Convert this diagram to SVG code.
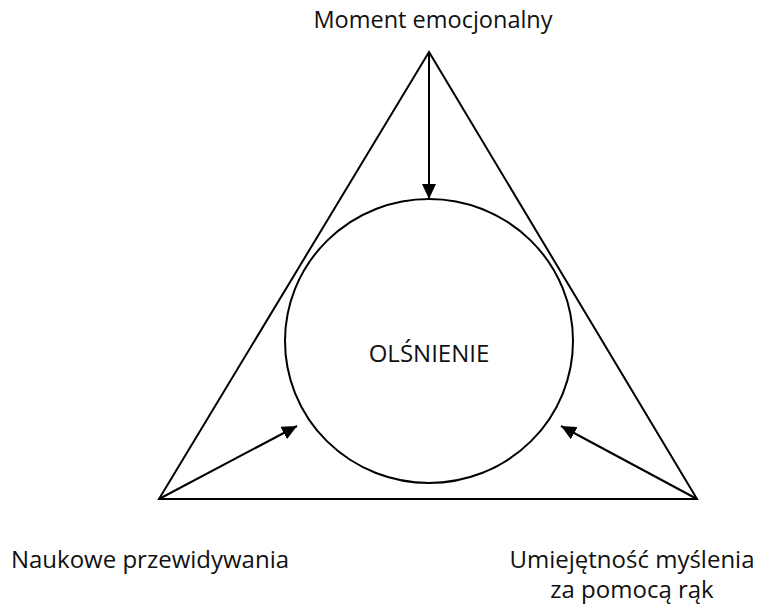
<svg xmlns="http://www.w3.org/2000/svg" width="760" height="609" viewBox="0 0 760 609">
  <defs>
    <marker id="arrow" viewBox="0 0 15 14" refX="15" refY="7" markerWidth="15" markerHeight="14" markerUnits="userSpaceOnUse" orient="auto">
      <path d="M0,0 L15,7 L0,14 Z" fill="#000"/>
    </marker>
    <style>
      .shape { fill: none; stroke: #000; stroke-width: 2; }
      .conn { fill: none; stroke: #000; stroke-width: 2; marker-end: url(#arrow); }
      .label { font-family: "Open Sans", "Noto Sans", sans-serif; font-size: 24px; fill: #111; text-anchor: middle; }
    </style>
  </defs>
  <rect width="760" height="609" fill="#fff"/>

  <g id="triangle">
    <polygon class="shape" points="429,52 159,499 697,499" stroke-linejoin="miter"/>
  </g>

  <g id="center">
    <ellipse class="shape" cx="429" cy="341" rx="144" ry="142" stroke-width="1.6"/>
    <text class="label" x="429" y="362">OLŚNIENIE</text>
  </g>

  <g id="top">
    <text class="label" x="433" y="28" style="font-size:23.5px">Moment emocjonalny</text>
  </g>

  <g id="left">
    <text class="label" x="150" y="568">Naukowe przewidywania</text>
  </g>

  <g id="right">
    <text class="label" x="632" y="568">Umiejętność myślenia</text>
    <text class="label" x="632" y="598">za pomocą rąk</text>
  </g>

  <g id="connectors">
    <line class="conn" x1="429" y1="52" x2="429" y2="199"/>
    <line class="conn" x1="159" y1="499" x2="297" y2="426"/>
    <line class="conn" x1="697" y1="499" x2="561" y2="426"/>
  </g>
</svg>
